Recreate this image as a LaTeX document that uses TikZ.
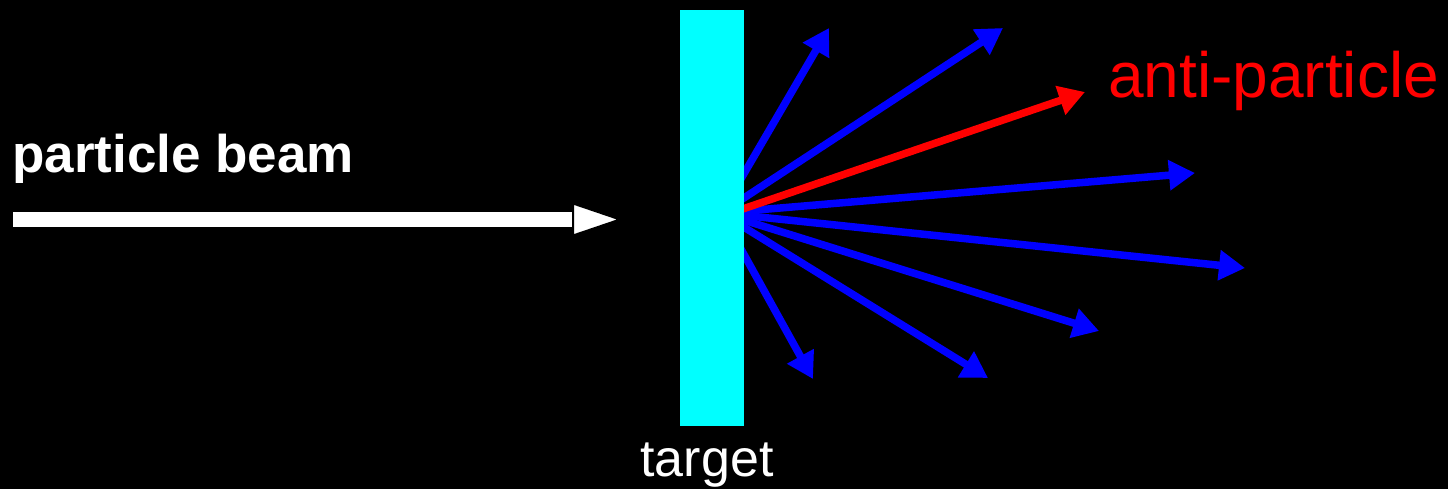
\documentclass[tikz,border=0pt]{standalone}
\usepackage{fontspec}
\setmainfont{Liberation Sans}
\usetikzlibrary{arrows.meta}
\definecolor{raycol}{RGB}{0,0,255}
\definecolor{antired}{RGB}{255,0,0}
\definecolor{targetcyan}{RGB}{0,255,255}
\tikzset{
  ray/.style={draw=raycol, line width=7.5pt, -{Triangle[length=26pt,width=29pt]}},
  antiray/.style={ray, draw=antired},
  beamshaft/.style={draw=white, line width=15pt},
  beamhead/.style={fill=white, draw=black, line width=2pt},
  lbl/.style={inner sep=0pt, anchor=base},
}
\begin{document}
\begin{tikzpicture}[x=1pt, y=-1pt]
  % canvas
  \fill[black] (0,0) rectangle (1448,489);
  \useasboundingbox (0,0) rectangle (1448,489);

  % points inside the slab where the secondaries start
  \coordinate (src) at (721,213);
  \coordinate (srca) at (731,213);
  \coordinate (t1) at (829,28);
  \coordinate (t2) at (1003,28);
  \coordinate (ta) at (1085,92);
  \coordinate (t4) at (1195,173);
  \coordinate (t5) at (1245,268);
  \coordinate (t6) at (1099,331);
  \coordinate (t7) at (988,378);
  \coordinate (t8) at (813,379);

  % secondaries
  \draw[ray] (src) -- (t1);
  \draw[ray] (src) -- (t2);
  \draw[ray] (src) -- (t4);
  \draw[ray] (src) -- (t5);
  \draw[ray] (src) -- (t6);
  \draw[ray] (src) -- (t7);
  \draw[ray] (src) -- (t8);
  \draw[antiray] (srca) -- (ta);

  % target slab
  \node[fill=targetcyan, minimum width=64pt, minimum height=416pt, inner sep=0pt,
        anchor=north west] (target) at (680,10) {};

  % incoming beam
  \coordinate (bs) at (13,219.5);
  \coordinate (be) at (578,219.5);
  \coordinate (tip) at (620,219.5);
  \draw[beamshaft] (bs) -- (be);
  \path[beamhead] (573,203.5) -- (tip) -- (573,235.5) -- cycle;

  % labels
  \node[lbl, anchor=base west, text=white, font=\fontsize{53}{53}\selectfont\bfseries]
    (beamlbl) at (12,173) {particle beam};
  \node[lbl, anchor=base west, text=antired, font=\fontsize{64}{64}\selectfont]
    (antilbl) at (1108,98) {anti-particle};
  \node[lbl, text=white, font=\fontsize{52}{52}\selectfont]
    (targetlbl) at (707,476) {target};
\end{tikzpicture}
\end{document}
